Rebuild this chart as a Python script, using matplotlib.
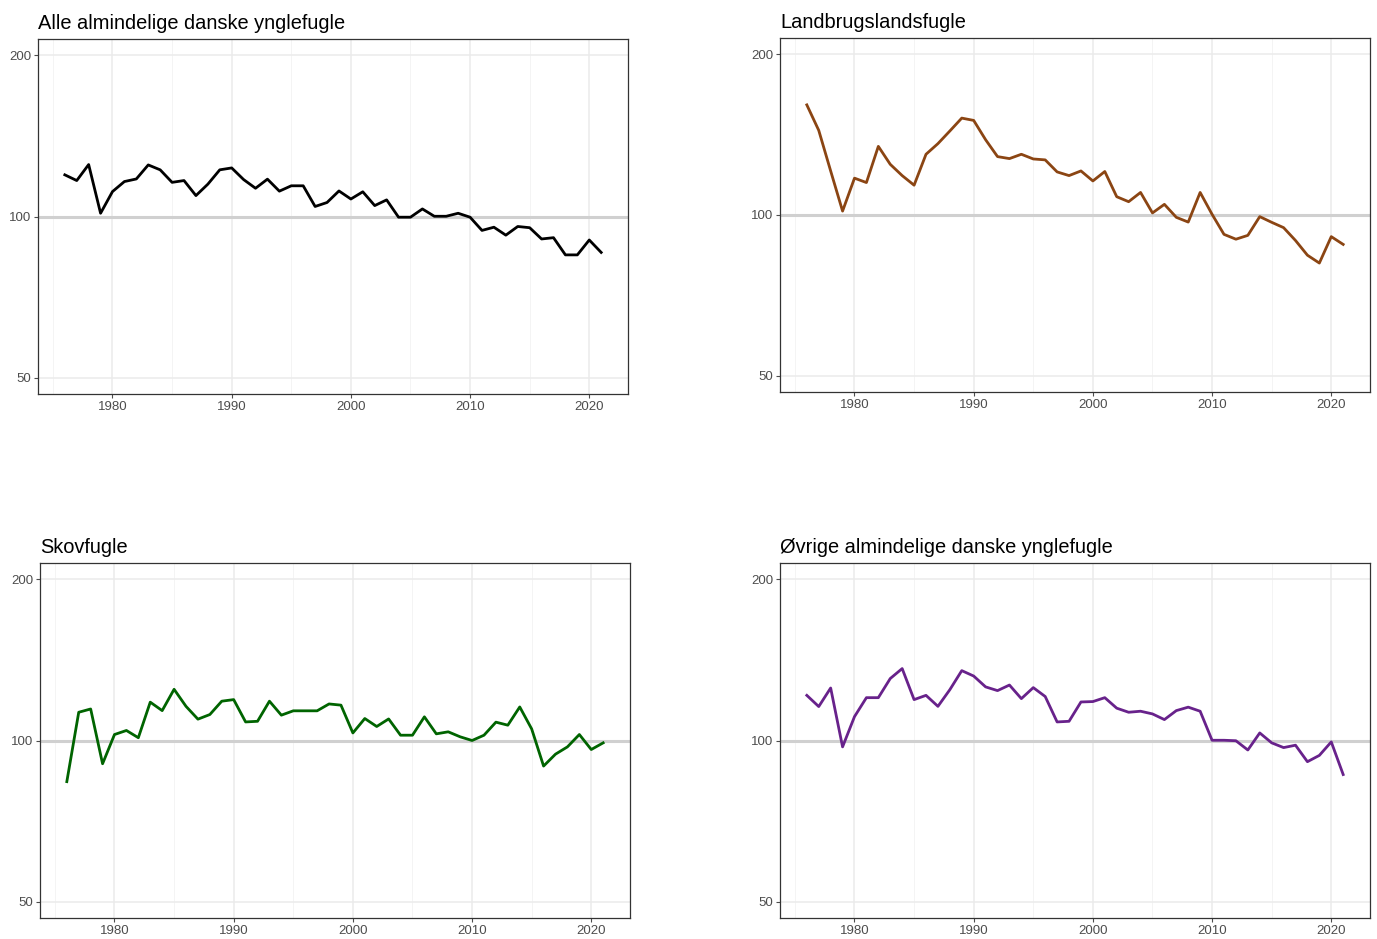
import matplotlib
matplotlib.use("Agg")
import matplotlib.pyplot as plt
import numpy as np

plt.rcParams['font.family'] = ['Liberation Sans', 'DejaVu Sans']

years = list(range(1976, 2022))

alle = [119.6, 116.7, 125.0, 101.4, 111.3, 116.2, 117.5, 124.8, 122.2, 115.8,
        116.7, 109.4, 114.9, 122.2, 123.2, 117.2, 112.9, 117.4, 111.5, 114.1,
        114.1, 104.4, 106.2, 111.6, 107.8, 111.2, 104.8, 107.4, 99.7, 99.7,
        103.3, 100.1, 100.1, 101.4, 99.7, 94.2, 95.5, 92.3, 95.8, 95.3,
        90.8, 91.3, 84.8, 84.8, 90.4, 85.7]

landbrug = [160.7, 144.0, 120.9, 101.7, 117.2, 115.0, 134.4, 124.4, 118.5, 113.7,
            129.9, 136.0, 143.6, 151.8, 150.3, 138.3, 128.6, 127.5, 129.9, 127.3,
            126.8, 120.4, 118.5, 120.9, 115.8, 120.6, 108.2, 105.9, 110.2, 100.9,
            104.7, 99.0, 97.0, 110.2, 100.3, 92.0, 90.1, 91.6, 99.3, 96.9,
            94.7, 89.6, 84.1, 81.3, 91.1, 88.1]

skov = [83.8, 112.9, 114.5, 90.5, 102.6, 104.4, 101.2, 117.9, 113.7, 124.6,
        115.8, 109.6, 111.8, 118.4, 119.2, 108.3, 108.6, 118.4, 111.5, 113.6,
        113.6, 113.6, 117.0, 116.4, 103.3, 109.9, 106.2, 109.7, 102.3, 102.3,
        110.7, 102.9, 103.8, 101.6, 100.0, 102.3, 108.2, 106.8, 115.5, 105.1,
        89.6, 94.3, 97.3, 102.6, 96.2, 99.0]

oevrige = [121.4, 115.7, 125.3, 97.3, 110.8, 120.2, 120.2, 130.5, 136.2, 119.2,
           121.4, 115.8, 124.4, 135.0, 131.9, 125.9, 123.9, 126.9, 119.7, 125.5,
           120.8, 108.3, 108.6, 118.0, 118.2, 120.2, 114.9, 112.9, 113.4, 112.1,
           109.4, 113.7, 115.4, 113.4, 100.1, 100.1, 99.9, 96.0, 103.3, 99.0,
           97.0, 98.0, 91.3, 93.8, 99.4, 86.4]

titles = ["Alle almindelige danske ynglefugle", "Landbrugslandsfugle",
          "Skovfugle", "Øvrige almindelige danske ynglefugle"]
series = [alle, landbrug, skov, oevrige]
colors = ["#000000", "#8B4513", "#006400", "#68228B"]

fig = plt.figure(figsize=(13.77, 9.39), dpi=100)

# axes boxes in pixels: left, top, right, bottom
boxes = [(38, 39, 628, 394), (780, 38, 1370, 392),
         (40, 563, 630, 918), (780, 563, 1370, 918)]
W, H = 1377, 939

yticks = [50, 100, 200]
xticks = [1980, 1990, 2000, 2010, 2020]
xminor = [1975, 1985, 1995, 2005, 2015]

for (l, t, r, b), title, vals, col in zip(boxes, titles, series, colors):
    ax = fig.add_axes([l / W, 1 - b / H, (r - l) / W, (b - t) / H])
    ax.set_yscale('log', base=2)
    ax.set_xlim(1973.75, 2023.25)
    ax.set_ylim(50 * 2 ** -0.1, 200 * 2 ** 0.1)
    ax.set_yticks(yticks)
    ax.set_yticklabels([str(v) for v in yticks])
    ax.yaxis.set_minor_locator(matplotlib.ticker.NullLocator())
    ax.set_xticks(xticks)
    ax.set_xticks(xminor, minor=True)
    for x in xticks:
        ax.axvline(x, color='#ebebeb', lw=1.1, zorder=0)
    for x in xminor:
        ax.axvline(x, color='#f2f2f2', lw=0.6, zorder=0)
    for y in [50, 200]:
        ax.axhline(y, color='#ebebeb', lw=1.1, zorder=0)
    ax.axhline(100, color='#d0d0d0', lw=2.2, zorder=1)
    ax.plot(years, vals, color=col, lw=2.0, zorder=3)
    ax.tick_params(axis='both', which='major', labelsize=9.5, colors='#4d4d4d',
                   length=3, width=0.8, pad=2)
    ax.tick_params(axis='x', which='minor', length=0)
    for s in ax.spines.values():
        s.set_color('#333333')
        s.set_linewidth(0.9)
    ax.set_title(title, loc='left', fontsize=14.4, pad=7, color='black')

plt.savefig("out.png", dpi=100)
